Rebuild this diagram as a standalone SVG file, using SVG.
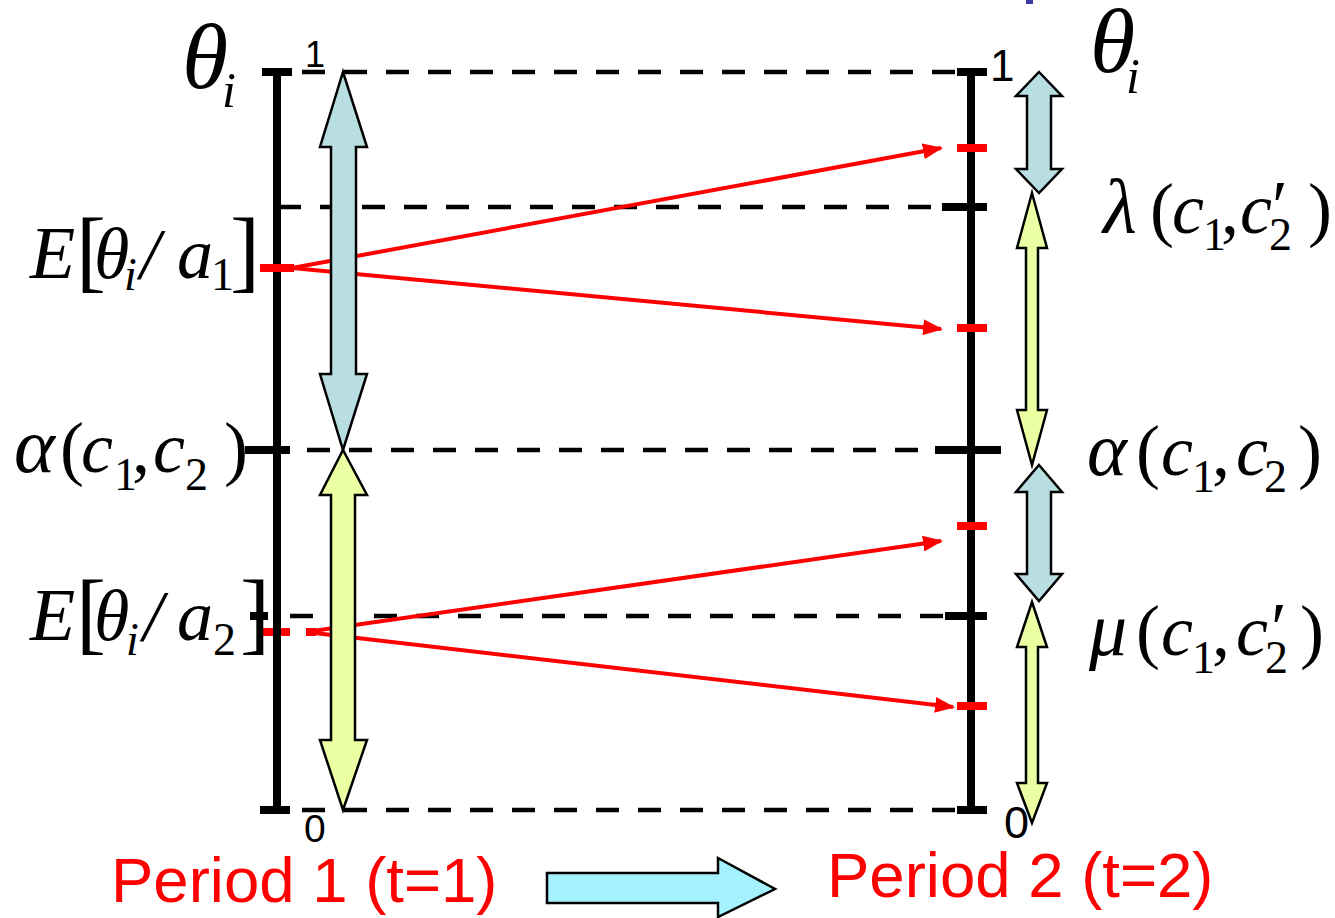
<svg xmlns="http://www.w3.org/2000/svg" width="1335" height="918" viewBox="0 0 1335 918">
<style>
.m{font-family:"Liberation Serif","Times New Roman",serif;fill:#000}
.it{font-style:italic}
.num{font-family:"Liberation Sans",Arial,sans-serif;fill:#000}
.per{font-family:"Liberation Sans",Arial,sans-serif;fill:#FF0000;font-size:63.5px}
.dash{stroke:#000;stroke-width:4.5;stroke-dasharray:23 19;fill:none}
.ax{stroke:#000;stroke-width:8;fill:none}
.tk{stroke:#000;stroke-width:8;fill:none}
.rt{stroke:#FF0000;stroke-width:8;fill:none}
.rl{stroke:#FF0000;stroke-width:4;fill:none}
.blue{fill:#B9DEE2;stroke:#000;stroke-width:2.5;stroke-linejoin:miter}
.yel{fill:#EBFFA3;stroke:#000;stroke-width:2.5;stroke-linejoin:miter}
.cy{fill:#A4F1FF;stroke:#000;stroke-width:2.5}
</style>
<defs>
<marker id="ah" viewBox="0 0 20 16" refX="18" refY="8" markerWidth="5" markerHeight="4" markerUnits="strokeWidth" orient="auto">
<path d="M0,0 L20,8 L0,16 z" fill="#FF0000"/>
</marker>
</defs>
<rect x="1026" y="0" width="7" height="4" fill="#3B3BA8"/>
<g id="gridlines">
<line class="dash" x1="302" y1="72" x2="955" y2="72"/>
<line class="dash" x1="278" y1="207" x2="945" y2="207"/>
<line class="dash" x1="307" y1="450" x2="935" y2="450"/>
<line class="dash" x1="290" y1="616" x2="945" y2="616"/>
<line class="dash" x1="302" y1="810" x2="955" y2="810"/>
</g>
<g id="left-axis">
<line class="ax" x1="277" y1="72" x2="277" y2="810"/>
<line class="tk" x1="262" y1="72" x2="292" y2="72"/>
<line class="tk" x1="260" y1="810" x2="290" y2="810"/>
<line class="tk" x1="245" y1="450" x2="290" y2="450"/>
<line class="tk" x1="250" y1="616" x2="268" y2="616"/>
<line class="rt" x1="260" y1="632" x2="290" y2="632"/>
<line class="rt" x1="306" y1="632" x2="316" y2="632"/>
<line class="ax" x1="277" y1="600" x2="277" y2="660"/>
<line class="rt" x1="260" y1="268" x2="294" y2="268"/>
</g>
<g id="right-axis">
<line class="ax" x1="971" y1="72" x2="971" y2="810"/>
<line class="tk" x1="957" y1="72" x2="987" y2="72"/>
<line class="tk" x1="942" y1="207" x2="987" y2="207"/>
<line class="tk" x1="935" y1="450" x2="1001" y2="450"/>
<line class="tk" x1="945" y1="616" x2="987" y2="616"/>
<line class="tk" x1="957" y1="810" x2="987" y2="810"/>
<line class="rt" x1="957" y1="148" x2="987" y2="148"/>
<line class="rt" x1="957" y1="328" x2="987" y2="328"/>
<line class="rt" x1="957" y1="526" x2="987" y2="526"/>
<line class="rt" x1="957" y1="706" x2="987" y2="706"/>
</g>
<g id="connectors">
<line class="rl" x1="292" y1="268" x2="941" y2="148" marker-end="url(#ah)"/>
<line class="rl" x1="292" y1="268" x2="941" y2="329" marker-end="url(#ah)"/>
<line class="rl" x1="306" y1="632" x2="941" y2="541" marker-end="url(#ah)"/>
<line class="rl" x1="306" y1="632" x2="953" y2="707" marker-end="url(#ah)"/>
</g>
<g id="left-blue-arrow">
<path class="blue" d="M343,72 L367,147 L356,147 L356,374 L367,374 L343,450 L320,374 L331,374 L331,147 L320,147 Z"/>
</g>
<g id="left-yellow-arrow">
<path class="yel" d="M343,450 L367,495 L355,495 L355,740 L367,740 L343,810 L320,740 L331,740 L331,495 L320,495 Z"/>
</g>
<g id="right-blue-arrow-1">
<path class="blue" d="M1039,72 L1062,96 L1051,96 L1051,169 L1062,169 L1039,193 L1016,169 L1027,169 L1027,96 L1016,96 Z"/>
</g>
<g id="right-yellow-arrow-1">
<path class="yel" d="M1032,193 L1047,248 L1038,248 L1038,410 L1047,410 L1032,465 L1017,410 L1026,410 L1026,248 L1017,248 Z"/>
</g>
<g id="right-blue-arrow-2">
<path class="blue" d="M1039,465 L1062,492 L1051,492 L1051,574 L1062,574 L1039,601 L1016,574 L1027,574 L1027,492 L1016,492 Z"/>
</g>
<g id="right-yellow-arrow-2">
<path class="yel" d="M1032,602 L1047,647 L1038,647 L1038,783 L1047,783 L1032,823 L1017,783 L1026,783 L1026,647 L1017,647 Z"/>
</g>
<g id="period-arrow">
<path class="cy" d="M547,873 L718,873 L718,858 L775,889 L718,917 L718,903 L547,903 Z"/>
</g>
<g id="labels-left">
<text class="m it" x="182" y="88" font-size="94">θ</text>
<text class="m it" x="222" y="107" font-size="50">i</text>
<text class="num" x="305" y="67" font-size="36">1</text>
<text class="num" x="304" y="842" font-size="39">0</text>
<text class="m" font-size="72"><tspan class="it" x="30" y="278" font-size="74">E</tspan><tspan x="76" y="281" font-size="90">[</tspan><tspan class="it" x="94" y="278">θ</tspan><tspan class="it" x="124" y="290" font-size="46">i</tspan><tspan class="it" x="140" y="278">/</tspan><tspan class="it" x="177" y="278">a</tspan><tspan x="211" y="290" font-size="46">1</tspan><tspan x="230" y="281" font-size="90">]</tspan></text>
<text class="m" font-size="72"><tspan class="it" x="30" y="640" font-size="74">E</tspan><tspan x="76" y="643" font-size="90">[</tspan><tspan class="it" x="94" y="640">θ</tspan><tspan class="it" x="126" y="655" font-size="46">i</tspan><tspan class="it" x="143" y="640">/</tspan><tspan class="it" x="177" y="640">a</tspan><tspan x="213" y="655" font-size="46">2</tspan><tspan x="240" y="643" font-size="90">]</tspan></text>
<text class="m" font-size="72"><tspan class="it" x="14" y="472" font-size="78">α</tspan><tspan x="60" y="472">(</tspan><tspan class="it" x="81" y="472">c</tspan><tspan x="114" y="490" font-size="46">1</tspan><tspan x="132" y="472">,</tspan><tspan class="it" x="153" y="472">c</tspan><tspan x="185" y="490" font-size="46">2</tspan><tspan x="224" y="472">)</tspan></text>
</g>
<g id="labels-right">
<text class="m it" x="1090" y="72" font-size="92">θ</text>
<text class="m it" x="1126" y="93" font-size="50">i</text>
<text class="num" x="990" y="81" font-size="44">1</text>
<text class="num" x="1004" y="838" font-size="45">0</text>
<text class="m" font-size="72"><tspan class="it" x="1103" y="233" font-size="78">λ</tspan><tspan x="1150" y="233">(</tspan><tspan class="it" x="1172" y="233">c</tspan><tspan x="1203" y="250" font-size="46">1</tspan><tspan x="1221" y="233">,</tspan><tspan class="it" x="1240" y="233">c</tspan><tspan x="1272" y="230">′</tspan><tspan x="1269" y="250" font-size="46">2</tspan><tspan x="1308" y="233">)</tspan></text>
<text class="m" font-size="72"><tspan class="it" x="1087" y="475" font-size="76">α</tspan><tspan x="1136" y="475">(</tspan><tspan class="it" x="1161" y="475">c</tspan><tspan x="1192" y="492" font-size="46">1</tspan><tspan x="1212" y="475">,</tspan><tspan class="it" x="1236" y="475">c</tspan><tspan x="1264" y="492" font-size="46">2</tspan><tspan x="1298" y="475">)</tspan></text>
<text class="m" font-size="72"><tspan class="it" x="1089" y="655" font-size="76">μ</tspan><tspan x="1136" y="655">(</tspan><tspan class="it" x="1161" y="655">c</tspan><tspan x="1192" y="673" font-size="46">1</tspan><tspan x="1212" y="655">,</tspan><tspan class="it" x="1236" y="655">c</tspan><tspan x="1271" y="652">′</tspan><tspan x="1265" y="673" font-size="46">2</tspan><tspan x="1300" y="655">)</tspan></text>
</g>
<g id="period-labels">
<text class="per" x="111" y="902">Period 1 (t=1)</text>
<text class="per" x="827" y="897">Period 2 (t=2)</text>
</g>
</svg>
